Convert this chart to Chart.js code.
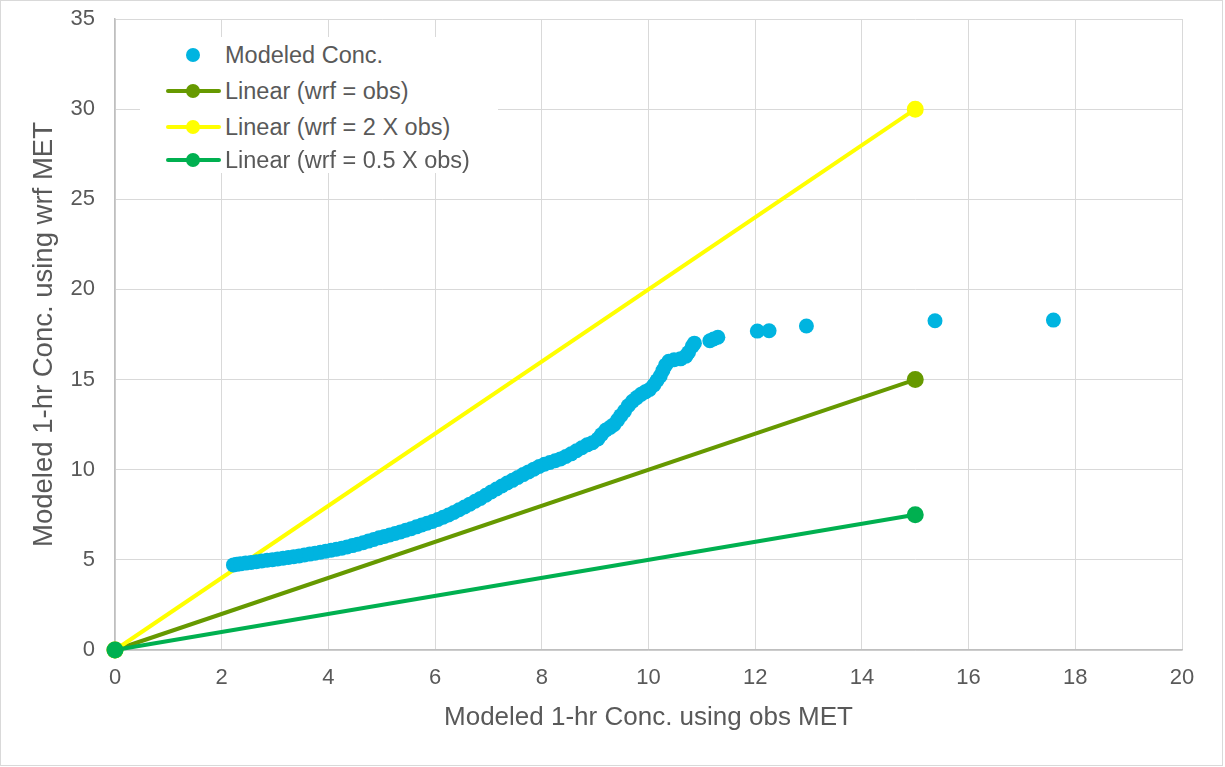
<!DOCTYPE html>
<html>
<head>
<meta charset="utf-8">
<script src="https://cdn.jsdelivr.net/npm/chart.js@4"></script>
<style>
  html, body { margin: 0; padding: 0; background: #fff; }
  #wrap { position: relative; width: 1225px; height: 767px; }
  #frame { position: absolute; left: 0; top: 0; width: 1221px; height: 764px; border: 1px solid #d9d9d9; pointer-events: none; }
  #legend { position: absolute; left: 140px; top: 37px; width: 358px; height: 136px; background: #fff;
            font-family: "Liberation Sans", Arial, sans-serif; font-size: 23.5px; color: #595959; }
  .item { position: absolute; left: 0; height: 30px; width: 358px; }
  .item span.txt { position: absolute; left: 85px; top: 1px; white-space: nowrap; line-height: 28px; }
  .item .ln { position: absolute; left: 26px; top: 13px; width: 55px; height: 4px; border-radius: 2px; }
  .item .dot { position: absolute; left: 46px; top: 8px; width: 14px; height: 14px; border-radius: 50%; }
</style>
</head>
<body>
<div id="wrap">
  <canvas id="c" width="1225" height="767"></canvas>
  <div id="legend"></div>
  <div id="frame"></div>
</div>
<script>
// scatter of modeled concentrations (obs MET, wrf MET)
const obsMet = [
  2.22, 2.28, 2.35, 2.45, 2.55, 2.65, 2.75, 2.85, 2.95, 3.05,
  3.15, 3.25, 3.35, 3.45, 3.55, 3.65, 3.75, 3.85, 3.95, 4.05,
  4.15, 4.25, 4.35, 4.45, 4.55, 4.65, 4.75, 4.85, 4.95, 5.05,
  5.15, 5.25, 5.35, 5.45, 5.55, 5.65, 5.75, 5.85, 5.95, 6.05,
  6.15, 6.25, 6.35, 6.45, 6.55, 6.65, 6.75, 6.85, 6.95, 7.05,
  7.15, 7.25, 7.35, 7.45, 7.55, 7.65, 7.75, 7.85, 7.95, 8.05,
  8.15, 8.25, 8.35, 8.45, 8.55, 8.65, 8.75, 8.85, 8.95, 9.05,
  9.12, 9.2, 9.28, 9.35, 9.42, 9.48, 9.55, 9.62, 9.7, 9.78,
  9.86, 9.94, 10.02, 10.1, 10.16, 10.22, 10.27, 10.32, 10.38, 10.48,
  10.6, 10.7, 10.75, 10.82, 10.86, 11.15, 11.22, 11.3, 12.04, 12.26,
  12.96, 15.37, 17.59
];
const wrfMet = [
  4.72, 4.75, 4.78, 4.82, 4.86, 4.9, 4.94, 4.98, 5.01, 5.05,
  5.09, 5.13, 5.17, 5.22, 5.27, 5.32, 5.37, 5.42, 5.48, 5.53,
  5.59, 5.65, 5.72, 5.79, 5.87, 5.95, 6.04, 6.13, 6.22, 6.3,
  6.38, 6.46, 6.55, 6.64, 6.73, 6.83, 6.93, 7.03, 7.13, 7.24,
  7.36, 7.49, 7.63, 7.78, 7.93, 8.09, 8.25, 8.41, 8.58, 8.76,
  8.93, 9.1, 9.26, 9.41, 9.57, 9.73, 9.88, 10.03, 10.18, 10.3,
  10.4, 10.5, 10.6, 10.73, 10.88, 11.05, 11.22, 11.38, 11.5, 11.7,
  11.95, 12.2, 12.35, 12.5, 12.75, 13.0, 13.25, 13.55, 13.8, 14.0,
  14.18, 14.32, 14.45, 14.7, 14.95, 15.2, 15.5, 15.8, 16.02, 16.1,
  16.15, 16.3, 16.5, 16.85, 17.02, 17.15, 17.25, 17.35, 17.69, 17.71,
  17.97, 18.26, 18.3
];

// reference lines, end points
const lineX = [0, 15];
const lineEq = [0, 15];
const line2x = [0, 30];
const lineHalf = [0, 7.5];

const seriesNames = ['Modeled Conc.', 'Linear (wrf = obs)', 'Linear (wrf = 2 X obs)', 'Linear (wrf = 0.5 X obs)'];
const seriesColors = ['#00b4e0', '#669900', '#ffff00', '#00b050'];

const xTitle = 'Modeled 1-hr Conc. using obs MET';
const yTitle = 'Modeled 1-hr Conc. using wrf MET';

const pts = (xs, ys) => xs.map((x, i) => ({ x: x, y: ys[i] }));
const lineSet = (i, ys, order) => ({
  label: seriesNames[i],
  data: pts(lineX, ys),
  showLine: true,
  borderColor: seriesColors[i],
  backgroundColor: seriesColors[i],
  borderWidth: 4,
  pointRadius: 6.5,
  pointHoverRadius: 6.5,
  clip: false,
  order: order
});

const font = "'Liberation Sans', Arial, sans-serif";
const grey = '#595959';

// pin the plot area to where it sits in the original figure
const plotBox = { left: 115, top: 19, right: 1182, bottom: 650 };

new Chart(document.getElementById('c'), {
  type: 'scatter',
  data: {
    datasets: [
      {
        label: seriesNames[0],
        data: pts(obsMet, wrfMet),
        backgroundColor: seriesColors[0],
        borderColor: seriesColors[0],
        borderWidth: 0,
        pointRadius: 7.5,
        order: 0
      },
      lineSet(1, lineEq, 3),
      lineSet(2, line2x, 2),
      lineSet(3, lineHalf, 1)
    ]
  },
  options: {
    responsive: false,
    animation: false,
    layout: { padding: { top: plotBox.top, right: 1225 - plotBox.right, left: 0, bottom: 0 } },
    plugins: { legend: { display: false }, tooltip: { enabled: false } },
    scales: {
      x: {
        type: 'linear', min: 0, max: 20,
        ticks: { stepSize: 2, padding: 15, color: grey, font: { family: font, size: 22 } },
        grid: { color: '#d9d9d9', drawTicks: false },
        border: { color: '#bfbfbf', width: 1.5 },
        title: { display: true, text: xTitle, color: grey, font: { family: font, size: 26 }, padding: { top: 0, bottom: 34 } },
        afterFit: s => { s.height = 767 - plotBox.bottom; }
      },
      y: {
        type: 'linear', min: 0, max: 35,
        ticks: { stepSize: 5, padding: 20, color: grey, font: { family: font, size: 22 } },
        grid: { color: '#d9d9d9', drawTicks: false },
        border: { color: '#bfbfbf', width: 1.5 },
        title: { display: true, text: yTitle, color: grey, font: { family: font, size: 27.5 }, padding: { top: 28, bottom: 0 } },
        afterFit: s => { s.width = plotBox.left; s.paddingTop = 0; s.paddingBottom = 0; }
      }
    }
  }
});

// legend overlay inside plot
const lg = document.getElementById('legend');
const rows = [3, 39, 75, 108];
seriesNames.forEach((name, i) => {
  const d = document.createElement('div');
  d.className = 'item';
  d.style.top = rows[i] + 'px';
  let html = '';
  if (i > 0) html += '<div class="ln" style="background:' + seriesColors[i] + '"></div>';
  html += '<div class="dot" style="background:' + seriesColors[i] + '"></div>';
  html += '<span class="txt">' + name + '</span>';
  d.innerHTML = html;
  lg.appendChild(d);
});
</script>
</body>
</html>
